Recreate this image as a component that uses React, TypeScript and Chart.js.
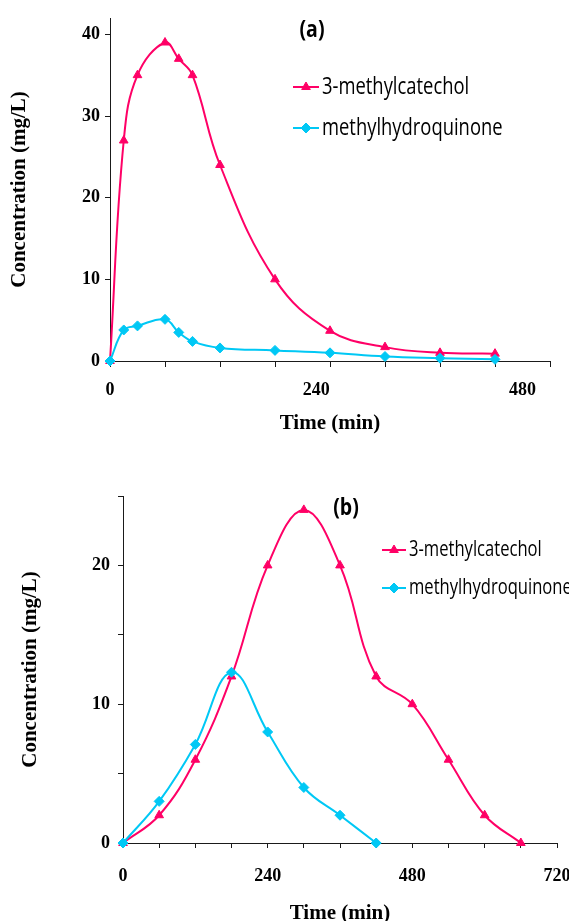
import React, { useEffect, useRef } from 'react';
import { Chart, registerables } from 'chart.js';
import { drawPoint } from 'chart.js/helpers';

Chart.register(...registerables);

// ---------- data ----------
const SERIES_NAMES = ['3-methylcatechol', 'methylhydroquinone'];

// panel (a)
const TIME_A = [0, 15, 30, 60, 75, 90, 120, 180, 240, 300, 360, 420];
const MC_A = [0, 27, 35, 39, 37, 35, 24, 10, 3.7, 1.7, 1.0, 0.9];
const MHQ_A = [0, 3.8, 4.3, 5.1, 3.5, 2.4, 1.6, 1.3, 1.0, 0.55, 0.35, 0.2];

// panel (b)
const TIME_B_MC = [0, 60, 120, 180, 240, 300, 360, 420, 480, 540, 600, 660];
const MC_B = [0, 2, 6, 12, 20, 24, 20, 12, 10, 6, 2, 0];
const TIME_B_MHQ = [0, 60, 120, 180, 240, 300, 360, 420];
const MHQ_B = [0, 3, 7.1, 12.3, 8, 4, 2, 0];

// ticks
const X_MARKS_A = [0, 60, 120, 180, 240, 300, 360, 420, 480];
const X_LABELS_A = [0, 240, 480];
const Y_TICKS_A = [0, 10, 20, 30, 40];
const X_MARKS_B = [0, 60, 120, 180, 240, 300, 360, 420, 480, 540, 600, 660, 720];
const X_LABELS_B = [0, 240, 480, 720];
const Y_MARKS_B = [0, 5, 10, 15, 20, 25];
const Y_LABELS_B = [0, 10, 20];

// ---------- styles ----------
const RED = '#FF0066';
const BLUE = '#00C8F5';
const AXIS = '#1a1a1a';
const SERIF = "'Liberation Serif', 'Times New Roman', serif";
const SANS = "'Open Sans', 'Noto Sans', sans-serif";
const tickFont = { family: SERIF, size: 18, weight: 'bold' as const };
const titleFont = { family: SERIF, size: 21, weight: 'bold' as const };

function series(times: number[], vals: number[]) {
  return times.map((t, i) => ({ x: t, y: vals[i] }));
}

function makeDatasets(tm: number[], mc: number[], tq: number[], mq: number[]) {
  return [
    {
      label: SERIES_NAMES[0],
      data: series(tm, mc),
      borderColor: RED,
      backgroundColor: RED,
      pointStyle: 'triangle',
      pointRadius: 5,
      pointBorderWidth: 1,
      borderWidth: 2,
      tension: 0.4,
      clip: false,
      order: 1,
    },
    {
      label: SERIES_NAMES[1],
      data: series(tq, mq),
      borderColor: BLUE,
      backgroundColor: BLUE,
      pointStyle: 'rectRot',
      pointRadius: 5,
      pointBorderWidth: 1,
      borderWidth: 2,
      tension: 0.4,
      clip: false,
      order: 0,
    },
  ];
}

// narrow (Calibri-like) text: Open Sans squeezed horizontally
function condensedText(ctx: CanvasRenderingContext2D, text: string, x: number, y: number, font: string, k: number, align: CanvasTextAlign) {
  ctx.save();
  ctx.translate(x, y);
  ctx.scale(k, 1);
  ctx.font = font;
  ctx.textAlign = align;
  ctx.textBaseline = 'middle';
  ctx.fillStyle = '#000';
  ctx.fillText(text, 0, 0);
  ctx.restore();
}

const insideLegend = {
  id: 'insideLegend',
  afterDraw(chart: any, _args: any, opts: any) {
    if (!opts || !opts.x) return;
    const { ctx } = chart;
    ctx.save();
    chart.data.datasets.forEach((ds: any, i: number) => {
      const cy = opts.y + i * opts.gap;
      ctx.strokeStyle = ds.borderColor;
      ctx.lineWidth = ds.borderWidth;
      ctx.beginPath();
      ctx.moveTo(opts.x, cy);
      ctx.lineTo(opts.x + opts.lineLen, cy);
      ctx.stroke();
      ctx.fillStyle = ds.backgroundColor;
      ctx.strokeStyle = ds.borderColor;
      ctx.lineWidth = 1;
      drawPoint(ctx, { pointStyle: ds.pointStyle, radius: 5, rotation: 0, borderWidth: 1 } as any, opts.x + opts.lineLen / 2, cy);
      condensedText(ctx, ds.label, opts.textX, cy, `${opts.fontSize}px ${SANS}`, opts.squeeze, 'left');
    });
    if (opts.panel) {
      condensedText(ctx, opts.panel.text, opts.panel.x, opts.panel.y, `bold 23px ${SANS}`, 0.85, 'center');
    }
    ctx.restore();
  },
};

function setTicks(list: number[]) {
  return (s: any) => {
    s.ticks = list.map((v) => ({ value: v }));
  };
}

function configA(): any {
  return {
    type: 'line',
    data: { datasets: makeDatasets(TIME_A, MC_A, TIME_A, MHQ_A) },
    options: {
      animation: false,
      responsive: false,
      devicePixelRatio: 1,
      layout: { padding: { top: 18, right: 19, left: 0, bottom: 0 } },
      plugins: {
        legend: { display: false },
        tooltip: { enabled: false },
        insideLegend: {
          x: 293, y: 87, gap: 41, lineLen: 26, textX: 322, fontSize: 23, squeeze: 0.8,
          panel: { text: '(a)', x: 312, y: 30 },
        },
      },
      scales: {
        x: {
          type: 'linear', position: 'bottom', min: 0, max: 480, weight: 0,
          afterBuildTicks: setTicks(X_MARKS_A),
          ticks: { display: false },
          grid: { drawOnChartArea: false, drawTicks: true, tickLength: 6, color: AXIS },
          border: { color: AXIS, width: 1 },
          afterFit: (s: any) => { s.height = 6; s.paddingLeft = 0; s.paddingRight = 0; },
        },
        xl: {
          type: 'linear', axis: 'x', position: 'bottom', min: 0, max: 512, weight: 1,
          afterBuildTicks: setTicks(X_LABELS_A),
          grid: { display: false },
          border: { display: false },
          ticks: { font: tickFont, color: '#000', padding: 5, maxRotation: 0, autoSkip: false },
          title: { display: true, text: 'Time (min)', font: titleFont, color: '#000', padding: { top: 0, bottom: 4 } },
          afterFit: (s: any) => { s.height = 73; s.paddingLeft = 0; s.paddingRight = 0; },
        },
        y: {
          type: 'linear', min: 0, max: 42,
          afterBuildTicks: setTicks(Y_TICKS_A),
          ticks: { font: tickFont, color: '#000', padding: 5 },
          grid: { drawOnChartArea: false, tickLength: 5, color: AXIS },
          border: { color: AXIS, width: 1 },
          title: { display: true, text: 'Concentration (mg/L)', font: titleFont, color: '#000', padding: { top: 7, bottom: 0 } },
          afterFit: (s: any) => { s.width = 110; s.paddingTop = 0; s.paddingBottom = 0; },
        },
      },
    },
    plugins: [insideLegend],
  };
}

function configB(): any {
  return {
    type: 'line',
    data: { datasets: makeDatasets(TIME_B_MC, MC_B, TIME_B_MHQ, MHQ_B) },
    options: {
      animation: false,
      responsive: false,
      devicePixelRatio: 1,
      layout: { padding: { top: 56, right: 12, left: 0, bottom: 0 } },
      plugins: {
        legend: { display: false },
        tooltip: { enabled: false },
        insideLegend: {
          x: 382, y: 110, gap: 38, lineLen: 24, textX: 409, fontSize: 21, squeeze: 0.79,
          panel: { text: '(b)', x: 346, y: 68 },
        },
      },
      scales: {
        x: {
          type: 'linear', position: 'bottom', min: 0, max: 720,
          afterBuildTicks: setTicks(X_MARKS_B),
          ticks: {
            font: tickFont, color: '#000', padding: 18, maxRotation: 0, autoSkip: false,
            callback: (v: number) => (X_LABELS_B.includes(v) ? String(v) : ''),
          },
          grid: { drawOnChartArea: false, drawTicks: true, tickLength: 5, color: AXIS },
          border: { color: AXIS, width: 1 },
          title: { display: true, text: 'Time (min)', font: titleFont, color: '#000', padding: { top: 0, bottom: -5 } },
          afterFit: (s: any) => { s.height = 78; s.paddingLeft = 0; s.paddingRight = 0; },
        },
        y: {
          type: 'linear', min: 0, max: 25,
          afterBuildTicks: setTicks(Y_MARKS_B),
          ticks: {
            font: tickFont, color: '#000', padding: 8,
            callback: (v: number) => (Y_LABELS_B.includes(v) ? String(v) : ''),
          },
          grid: { drawOnChartArea: false, tickLength: 5, color: AXIS },
          border: { color: AXIS, width: 1 },
          title: { display: true, text: 'Concentration (mg/L)', font: titleFont, color: '#000', padding: { top: 18, bottom: 0 } },
          afterFit: (s: any) => { s.width = 123; s.paddingTop = 0; s.paddingBottom = 0; },
        },
      },
    },
    plugins: [insideLegend],
  };
}

function Panel({ top, height, make }: { top: number; height: number; make: () => any }) {
  const ref = useRef<HTMLCanvasElement>(null);
  useEffect(() => {
    if (!ref.current) return;
    const chart = new Chart(ref.current, make());
    return () => chart.destroy();
  }, [make]);
  return (
    <div style={{ position: 'absolute', left: 0, top, width: 569, height }}>
      <canvas ref={ref} width={569} height={height} style={{ display: 'block', width: 569, height }} />
    </div>
  );
}

export default function App() {
  return (
    <div style={{ position: 'absolute', left: 0, top: 0, width: 569, height: 921, overflow: 'hidden', background: '#fff' }}>
      <Panel top={0} height={440} make={configA} />
      <Panel top={440} height={481} make={configB} />
    </div>
  );
}
